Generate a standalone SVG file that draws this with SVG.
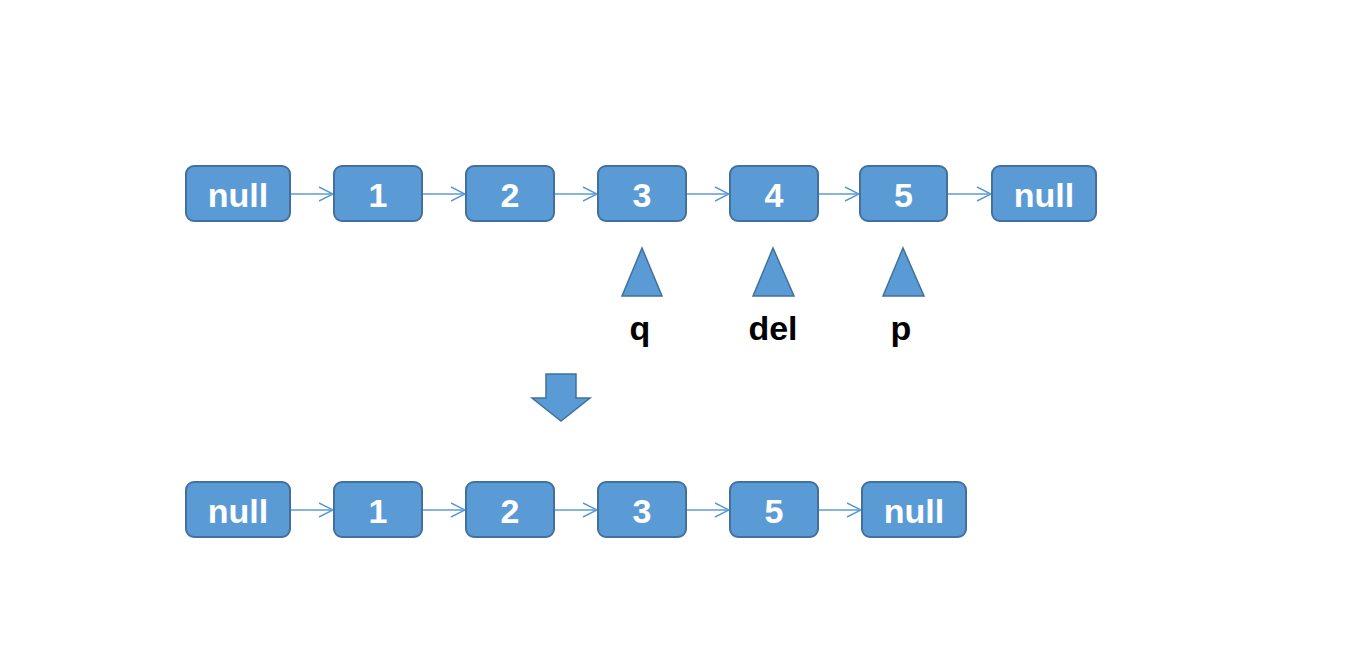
<svg xmlns="http://www.w3.org/2000/svg" width="1354" height="662" viewBox="0 0 1354 662">
<defs>
<style>
.n rect{fill:#5B9BD5;stroke:#41719C;stroke-width:2}
.n text{fill:#fff;font-family:"Liberation Sans",Arial,sans-serif;font-weight:bold;font-size:34px;text-anchor:middle}
.c line{stroke:#5B9BD5;stroke-width:1.5;marker-end:url(#a)}
.ptr polygon{fill:#5B9BD5;stroke:#41719C;stroke-width:1.5}
.lbl{fill:#000;font-family:"Liberation Sans",Arial,sans-serif;font-weight:bold;font-size:34px;text-anchor:middle}
</style>
<marker id="a" viewBox="0 0 16 16" refX="15" refY="8" markerWidth="16" markerHeight="16" markerUnits="userSpaceOnUse" orient="auto">
<path d="M1,1 L15,8 L1,15" fill="none" stroke="#5B9BD5" stroke-width="1.5"/>
</marker>
</defs>
<rect width="1354" height="662" fill="#fff"/>
<g class="c" id="connectors">
<line x1="291" y1="194" x2="333" y2="194"/>
<line x1="423" y1="194" x2="465" y2="194"/>
<line x1="555" y1="194" x2="597" y2="194"/>
<line x1="687" y1="194" x2="729" y2="194"/>
<line x1="819" y1="194" x2="859" y2="194"/>
<line x1="948" y1="194" x2="991" y2="194"/>
<line x1="291" y1="510" x2="333" y2="510"/>
<line x1="423" y1="510" x2="465" y2="510"/>
<line x1="555" y1="510" x2="597" y2="510"/>
<line x1="687" y1="510" x2="729" y2="510"/>
<line x1="819" y1="510" x2="861" y2="510"/>
</g>
<g class="n" id="t-null1"><rect x="186" y="166" width="104" height="55" rx="8"/><text x="238" y="207">null</text></g>
<g class="n" id="t-1"><rect x="334" y="166" width="88" height="55" rx="8"/><text x="378" y="207">1</text></g>
<g class="n" id="t-2"><rect x="466" y="166" width="88" height="55" rx="8"/><text x="510" y="207">2</text></g>
<g class="n" id="t-3"><rect x="598" y="166" width="88" height="55" rx="8"/><text x="642" y="207">3</text></g>
<g class="n" id="t-4"><rect x="730" y="166" width="88" height="55" rx="8"/><text x="774" y="207">4</text></g>
<g class="n" id="t-5"><rect x="860" y="166" width="87" height="55" rx="8"/><text x="903.5" y="207">5</text></g>
<g class="n" id="t-null2"><rect x="992" y="166" width="104" height="55" rx="8"/><text x="1044" y="207">null</text></g>
<g class="ptr" id="ptr-q"><polygon points="642,248 662,296 622,296"/><text class="lbl" x="640" y="340">q</text></g>
<g class="ptr" id="ptr-del"><polygon points="773,248 794,296 753,296"/><text class="lbl" x="773" y="340">del</text></g>
<g class="ptr" id="ptr-p"><polygon points="903,248 924,296 883,296"/><text class="lbl" x="901" y="340">p</text></g>
<g class="ptr" id="down-arrow"><polygon points="546,374 576,374 576,398 590,398 561,421 532,398 546,398"/></g>
<g class="n" id="b-null1"><rect x="186" y="482" width="104" height="55" rx="8"/><text x="238" y="523">null</text></g>
<g class="n" id="b-1"><rect x="334" y="482" width="88" height="55" rx="8"/><text x="378" y="523">1</text></g>
<g class="n" id="b-2"><rect x="466" y="482" width="88" height="55" rx="8"/><text x="510" y="523">2</text></g>
<g class="n" id="b-3"><rect x="598" y="482" width="88" height="55" rx="8"/><text x="642" y="523">3</text></g>
<g class="n" id="b-5"><rect x="730" y="482" width="88" height="55" rx="8"/><text x="774" y="523">5</text></g>
<g class="n" id="b-null2"><rect x="862" y="482" width="104" height="55" rx="8"/><text x="914" y="523">null</text></g>
</svg>
